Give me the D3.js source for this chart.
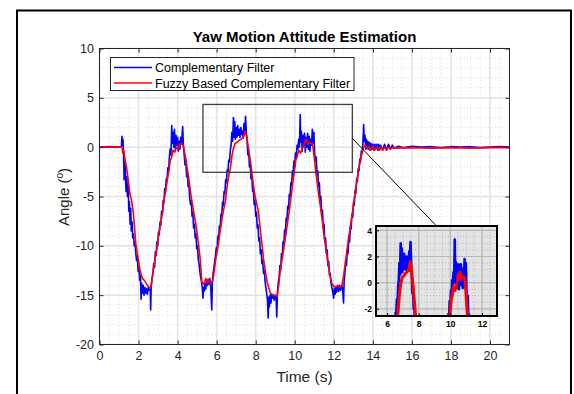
<!DOCTYPE html>
<meta charset="utf-8">
<style>
body { margin: 0; background: #fff; }
svg { display: block; font-family: "Liberation Sans", Arial, sans-serif; }
</style>
<body>
<svg width="574" height="394"></svg>
</body>
<script src="https://d3js.org/d3.v7.min.js"></script>
<script>

var chartTitle = "Yaw Motion Attitude Estimation";
var seriesNames = ["Complementary Filter", "Fuzzy Based Complementary Filter"];
var xTicks = [0, 2, 4, 6, 8, 10, 12, 14, 16, 18, 20];
var yTicks = [10, 5, 0, -5, -10, -15, -20];
var insetXTicks = [6, 8, 10, 12];
var insetYTicks = [-2, 0, 2, 4];
var zoomX = [5.3, 12.95];
var zoomY = [-2.55, 4.33];

// [time (s), angle (deg)]
var compFilter = [
  [0,0],[0.5,0.05],[1.0,0],[1.12,0.05],[1.15,1.1],[1.18,0.2],[1.2,0.8],[1.23,-0.5],[1.26,-3.3],[1.3,-1.5],
  [1.33,-2.8],[1.36,-4.5],[1.4,-3.0],[1.43,-5.0],[1.47,-3.8],[1.5,-6.5],[1.53,-5.5],[1.57,-7.8],[1.6,-6.2],[1.63,-8.5],
  [1.67,-7.6],[1.7,-9.2],[1.74,-8.8],[1.78,-10.0],[1.82,-9.6],[1.86,-10.8],[1.9,-11.5],[1.94,-11.0],[1.98,-12.6],[2.02,-12.2],
  [2.06,-13.5],[2.1,-13.0],[2.13,-15.4],[2.16,-13.8],[2.2,-14.8],[2.24,-14.0],[2.28,-15.0],[2.32,-14.2],[2.36,-14.8],[2.4,-14.3],
  [2.45,-14.9],[2.5,-14.2],[2.55,-14.5],[2.6,-14.4],[2.62,-16.5],[2.65,-14.0],[2.7,-13.2],[2.74,-12.6],[2.78,-11.8],[2.82,-12.2],
  [2.86,-10.6],[2.9,-11.0],[2.94,-9.6],[2.98,-10.0],[3.02,-8.6],[3.06,-8.9],[3.1,-7.6],[3.14,-7.9],[3.18,-6.5],[3.22,-6.8],
  [3.26,-5.4],[3.3,-5.6],[3.34,-4.2],[3.38,-4.5],[3.42,-3.2],[3.46,-3.4],[3.5,-2.1],[3.54,-2.4],[3.58,-1.0],[3.62,-0.2],
  [3.66,-0.8],[3.7,2.2],[3.73,0.4],[3.76,1.5],[3.8,0.0],[3.84,1.8],[3.88,-0.2],[3.92,1.2],[3.96,0.2],[4.0,1.0],
  [4.04,-0.4],[4.08,0.6],[4.12,-0.2],[4.16,1.0],[4.2,0.3],[4.26,2.1],[4.3,0.0],[4.34,-0.8],[4.38,-1.8],[4.42,-1.2],
  [4.46,-3.0],[4.5,-2.6],[4.54,-4.0],[4.58,-3.6],[4.62,-5.2],[4.66,-5.8],[4.7,-5.4],[4.74,-7.0],[4.78,-6.6],[4.82,-8.2],
  [4.86,-7.8],[4.9,-9.2],[4.94,-8.8],[4.98,-10.3],[5.02,-10.0],[5.06,-11.4],[5.1,-11.8],[5.14,-12.6],[5.18,-13.2],[5.22,-13.6],
  [5.26,-14.2],[5.3,-15.3],[5.33,-14.2],[5.36,-14.6],[5.4,-13.8],[5.44,-14.4],[5.48,-13.6],[5.52,-14.0],[5.56,-13.4],[5.6,-13.9],
  [5.65,-13.3],[5.7,-14.2],[5.75,-16.5],[5.78,-13.8],[5.82,-12.8],[5.86,-12.2],[5.9,-11.6],[5.94,-11.0],[5.98,-10.2],[6.02,-10.5],
  [6.06,-9.0],[6.1,-9.3],[6.14,-8.0],[6.18,-8.2],[6.22,-6.8],[6.26,-7.0],[6.3,-5.6],[6.34,-5.9],[6.38,-4.5],[6.42,-4.7],
  [6.46,-3.3],[6.5,-3.6],[6.54,-2.3],[6.58,-2.5],[6.62,-1.3],[6.66,-1.5],[6.7,-0.3],[6.74,0.2],[6.78,1.5],[6.82,0.6],
  [6.86,3.0],[6.9,1.0],[6.93,2.6],[6.96,0.8],[7.0,2.0],[7.04,1.0],[7.08,2.2],[7.12,1.2],[7.16,1.8],[7.2,1.0],
  [7.24,2.0],[7.28,1.3],[7.32,1.6],[7.36,0.9],[7.4,2.4],[7.44,1.5],[7.48,3.1],[7.52,1.6],[7.56,0.6],[7.6,-0.8],
  [7.64,-0.3],[7.68,-2.0],[7.72,-1.6],[7.76,-3.2],[7.8,-2.8],[7.84,-4.5],[7.88,-4.2],[7.92,-5.8],[7.96,-5.4],[8.0,-7.0],
  [8.04,-6.6],[8.08,-8.2],[8.12,-7.9],[8.16,-9.5],[8.2,-9.2],[8.24,-10.8],[8.28,-10.4],[8.32,-11.8],[8.36,-11.5],[8.4,-12.8],
  [8.44,-12.5],[8.48,-13.6],[8.52,-14.2],[8.56,-14.8],[8.6,-15.4],[8.64,-17.3],[8.67,-15.2],[8.7,-16.2],[8.74,-15.0],[8.78,-15.8],
  [8.82,-14.9],[8.86,-15.3],[8.9,-15.0],[8.95,-15.5],[9.0,-15.0],[9.05,-15.4],[9.08,-17.2],[9.11,-15.0],[9.15,-13.8],[9.2,-13.2],
  [9.24,-12.0],[9.28,-12.4],[9.32,-10.8],[9.36,-11.2],[9.4,-9.6],[9.44,-9.9],[9.48,-8.4],[9.52,-8.8],[9.56,-7.2],[9.6,-7.5],
  [9.64,-6.0],[9.68,-6.3],[9.72,-4.8],[9.76,-5.0],[9.8,-3.6],[9.84,-3.9],[9.88,-2.4],[9.92,-2.7],[9.96,-1.4],[10.0,-2.0],
  [10.04,-0.6],[10.08,-1.0],[10.12,0.2],[10.16,-0.2],[10.2,0.8],[10.24,0.0],[10.28,3.3],[10.31,0.5],[10.34,1.6],[10.38,-0.4],
  [10.42,1.2],[10.46,0.2],[10.5,1.4],[10.54,-0.5],[10.58,1.0],[10.62,0.0],[10.66,1.4],[10.7,-0.2],[10.74,1.1],[10.78,-0.4],
  [10.82,0.8],[10.86,0.2],[10.9,1.8],[10.94,0.4],[10.98,1.5],[11.02,-0.6],[11.06,-1.4],[11.1,-1.0],[11.14,-2.8],[11.18,-2.4],
  [11.22,-4.0],[11.26,-3.6],[11.3,-5.4],[11.34,-5.0],[11.38,-6.8],[11.42,-6.4],[11.46,-8.2],[11.5,-7.8],[11.54,-9.6],[11.58,-9.2],
  [11.62,-10.8],[11.66,-10.4],[11.7,-12.0],[11.74,-11.6],[11.78,-13.0],[11.82,-12.8],[11.86,-13.8],[11.9,-14.2],[11.94,-14.6],[11.99,-15.3],
  [12.03,-14.3],[12.07,-14.9],[12.11,-14.2],[12.15,-14.7],[12.2,-14.1],[12.25,-14.6],[12.3,-14.0],[12.35,-14.5],[12.4,-14.0],[12.45,-14.3],
  [12.5,-15.8],[12.53,-13.6],[12.57,-12.8],[12.61,-11.6],[12.65,-12.0],[12.69,-10.4],[12.73,-10.8],[12.77,-9.2],[12.81,-9.6],[12.85,-8.0],
  [12.89,-8.3],[12.93,-6.8],[12.97,-7.1],[13.01,-5.6],[13.05,-5.9],[13.09,-4.4],[13.13,-4.7],[13.17,-3.2],[13.21,-3.5],[13.25,-2.2],
  [13.29,-2.4],[13.33,-1.2],[13.37,-1.5],[13.41,-0.4],[13.45,-0.6],[13.49,0.4],[13.53,2.3],[13.56,0.6],[13.6,1.2],[13.63,-0.2],
  [13.67,0.8],[13.7,-0.1],[13.74,0.6],[13.78,-0.2],[13.82,0.5],[13.86,-0.3],[13.9,0.4],[13.95,-0.2],[14.0,0.3],[14.05,-0.3],
  [14.1,0.3],[14.15,-0.2],[14.2,0.3],[14.25,-0.3],[14.3,0.3],[14.35,-0.3],[14.4,0.2],[14.5,-0.3],[14.6,0.3],[14.7,-0.3],
  [14.8,0.3],[14.9,-0.2],[15.0,0.2],[15.1,-0.1],[15.3,0.1],[15.6,-0.05],[16.0,0.1],[16.5,0.0],[17.0,0.05],[17.5,-0.05],
  [18.0,0.05],[18.5,0.0],[19.0,0.05],[19.5,-0.05],[20.0,0.0],[20.5,0.05],[21.0,0.0]
];

var fuzzyFilter = [
  [0,0],[1.0,0],[1.15,0],[1.2,-0.6],[1.25,-0.4],[1.31,-1.3],[1.38,-2.0],[1.45,-3.0],[1.56,-4.7],[1.65,-5.5],
  [1.73,-6.6],[1.8,-8.3],[1.86,-9.8],[1.95,-11.0],[2.08,-12.5],[2.15,-13.0],[2.2,-13.3],[2.33,-13.6],[2.45,-14.0],[2.59,-14.3],
  [2.65,-14.0],[2.76,-12.5],[2.85,-11.2],[2.93,-10.4],[3.05,-8.6],[3.19,-7.1],[3.28,-5.8],[3.36,-4.7],[3.46,-3.5],[3.56,-2.3],
  [3.63,-1.3],[3.7,-1.0],[3.76,-0.3],[3.85,-0.5],[3.96,0.0],[4.05,-0.2],[4.12,0.3],[4.21,0.4],[4.3,0.1],[4.4,-1.0],
  [4.48,-2.0],[4.56,-3.0],[4.68,-4.8],[4.81,-6.4],[4.95,-8.0],[5.07,-9.8],[5.15,-11.2],[5.2,-12.5],[5.24,-13.6],[5.3,-13.9],
  [5.38,-13.7],[5.45,-13.3],[5.52,-13.7],[5.6,-13.5],[5.7,-13.8],[5.8,-13.5],[5.84,-13.1],[5.95,-11.4],[6.09,-9.8],[6.2,-8.2],
  [6.35,-6.4],[6.45,-5.5],[6.52,-4.2],[6.61,-3.0],[6.7,-2.2],[6.78,-0.9],[6.85,-0.2],[6.95,0.4],[7.05,0.5],[7.15,0.7],
  [7.25,0.8],[7.38,1.05],[7.46,1.6],[7.55,1.0],[7.62,0.0],[7.72,-1.3],[7.8,-2.5],[7.88,-3.8],[7.97,-5.0],[8.06,-5.8],
  [8.14,-6.6],[8.25,-8.6],[8.32,-9.8],[8.4,-11.3],[8.49,-12.5],[8.58,-13.6],[8.66,-14.2],[8.75,-14.8],[8.83,-14.9],[8.95,-15.0],
  [9.09,-15.1],[9.18,-14.0],[9.26,-12.5],[9.35,-11.4],[9.43,-10.4],[9.52,-9.2],[9.6,-8.1],[9.68,-7.0],[9.77,-5.7],[9.85,-4.4],
  [9.94,-3.0],[10.06,-1.3],[10.12,-1.0],[10.2,-0.3],[10.3,-0.6],[10.38,-0.2],[10.45,0.1],[10.52,0.6],[10.6,0.8],[10.68,0.3],
  [10.75,0.5],[10.82,0.35],[10.9,0.4],[10.97,-0.5],[11.05,-2.0],[11.13,-3.3],[11.22,-4.7],[11.3,-5.8],[11.39,-7.1],[11.47,-8.5],
  [11.56,-9.8],[11.65,-11.0],[11.73,-12.1],[11.82,-13.2],[11.9,-13.8],[12.0,-14.1],[12.1,-14.2],[12.2,-14.0],[12.3,-14.2],[12.4,-14.1],
  [12.5,-13.1],[12.6,-11.6],[12.68,-10.4],[12.76,-9.2],[12.85,-8.1],[12.93,-6.9],[13.02,-5.7],[13.1,-4.5],[13.19,-3.3],[13.28,-2.2],
  [13.36,-1.3],[13.45,-0.6],[13.53,0.0],[13.6,0.2],[13.7,-0.2],[13.8,0.1],[13.9,-0.3],[14.0,0.1],[14.1,-0.3],[14.2,0.0],
  [14.3,-0.3],[14.4,0.0],[14.5,-0.3],[14.6,0.0],[14.7,-0.3],[14.8,0.0],[14.9,-0.2],[15.0,-0.05],[15.2,-0.1],[16,-0.05],
  [17,-0.1],[18,-0.05],[19,-0.1],[20,-0.05],[21,-0.05]
];

var svg = d3.select("svg"),
    axisColor = "#262626",
    plainFormat = function(d) { return String(d); };

// outer figure frame
svg.append("rect")
    .attr("x", 17).attr("y", 10.5)
    .attr("width", 554).attr("height", 400)
    .attr("fill", "none").attr("stroke", "#000").attr("stroke-width", 2);

var x = d3.scaleLinear().domain([0, 21]).range([99.5, 509.5]),
    y = d3.scaleLinear().domain([-20, 10]).range([344.5, 48.5]);

var line = d3.line()
    .x(function(d) { return x(d[0]); })
    .y(function(d) { return y(d[1]); });

var defs = svg.append("defs");
defs.append("clipPath").attr("id", "plotClip")
  .append("rect")
    .attr("x", x(0)).attr("y", y(10))
    .attr("width", x(21) - x(0)).attr("height", y(-20) - y(10));

var g = svg.append("g");

// minor grid
g.selectAll(".minx")
  .data(d3.range(0, 21.01, 0.5))
  .enter().append("line")
    .attr("x1", x).attr("x2", x)
    .attr("y1", y(10)).attr("y2", y(-20))
    .attr("stroke", "#cfcfcf").attr("stroke-width", 0.8)
    .attr("stroke-dasharray", "1,2.5");
g.selectAll(".miny")
  .data(d3.range(-20, 10.01, 1))
  .enter().append("line")
    .attr("y1", y).attr("y2", y)
    .attr("x1", x(0)).attr("x2", x(21))
    .attr("stroke", "#cfcfcf").attr("stroke-width", 0.8)
    .attr("stroke-dasharray", "1,2.5");

// major grid
g.selectAll(".gx")
  .data(xTicks)
  .enter().append("line")
    .attr("x1", x).attr("x2", x)
    .attr("y1", y(10)).attr("y2", y(-20))
    .attr("stroke", "#e3e3e3").attr("stroke-width", 1.5);
g.selectAll(".gy")
  .data(yTicks)
  .enter().append("line")
    .attr("y1", y).attr("y2", y)
    .attr("x1", x(0)).attr("x2", x(21))
    .attr("stroke", "#e3e3e3").attr("stroke-width", 1.5);

var plot = g.append("g").attr("clip-path", "url(#plotClip)");
plot.append("path").datum(compFilter)
    .attr("d", line).attr("fill", "none")
    .attr("stroke", "#0000ff").attr("stroke-width", 1.6).attr("stroke-linejoin", "round");
plot.append("path").datum(fuzzyFilter)
    .attr("d", line).attr("fill", "none")
    .attr("stroke", "#ff0000").attr("stroke-width", 1.6).attr("stroke-linejoin", "round");

// axes box with inward ticks
g.append("rect")
    .attr("x", x(0)).attr("y", y(10))
    .attr("width", x(21) - x(0)).attr("height", y(-20) - y(10))
    .attr("fill", "none").attr("stroke", axisColor).attr("stroke-width", 1);

var xAxis = d3.axisBottom(x).tickValues(xTicks).tickFormat(plainFormat)
    .tickSizeInner(-4).tickSizeOuter(0).tickPadding(7);
var yAxis = d3.axisLeft(y).tickValues(yTicks).tickFormat(plainFormat)
    .tickSizeInner(-4).tickSizeOuter(0).tickPadding(5.5);

g.append("g").attr("transform", "translate(0," + y(-20) + ")").call(xAxis)
  .call(function(s) { s.select(".domain").remove(); });
g.append("g").attr("transform", "translate(0," + y(10) + ")")
  .call(d3.axisTop(x).tickValues(xTicks).tickSizeInner(-4).tickSizeOuter(0).tickFormat(""))
  .call(function(s) { s.select(".domain").remove(); });
g.append("g").attr("transform", "translate(" + x(0) + ",0)").call(yAxis)
  .call(function(s) { s.select(".domain").remove(); });
g.append("g").attr("transform", "translate(" + x(21) + ",0)")
  .call(d3.axisRight(y).tickValues(yTicks).tickSizeInner(-4).tickSizeOuter(0).tickFormat(""))
  .call(function(s) { s.select(".domain").remove(); });

g.selectAll(".tick line").attr("stroke", axisColor);
g.selectAll(".tick text")
    .attr("fill", axisColor)
    .style("font-size", "12.5px")
    .style("font-family", "'Liberation Sans', Arial, sans-serif");

// titles
svg.append("text")
    .attr("x", 304.5).attr("y", 42)
    .attr("text-anchor", "middle")
    .style("font-weight", "bold").style("font-size", "15px")
    .attr("fill", "#000")
    .text(chartTitle);

svg.append("text")
    .attr("x", 304.5).attr("y", 382)
    .attr("text-anchor", "middle")
    .style("font-size", "15.5px")
    .attr("fill", axisColor)
    .text("Time (s)");

var yl = svg.append("text")
    .attr("transform", "translate(69,197) rotate(-90)")
    .attr("text-anchor", "middle")
    .style("font-size", "15px")
    .attr("fill", axisColor);
yl.append("tspan").text("Angle (");
yl.append("tspan").attr("dy", -6).style("font-size", "10px").text("o");
yl.append("tspan").attr("dy", 6).text(")");

// legend
var leg = svg.append("g");
leg.append("rect")
    .attr("x", 110.5).attr("y", 57.5)
    .attr("width", 243.5).attr("height", 33)
    .attr("fill", "#fff").attr("stroke", axisColor).attr("stroke-width", 1);
var legColors = ["#0000ff", "#ff0000"];
seriesNames.forEach(function(name, i) {
  var ly = 67.5 + i * 15.5;
  leg.append("line")
      .attr("x1", 114).attr("x2", 152)
      .attr("y1", ly).attr("y2", ly)
      .attr("stroke", legColors[i]).attr("stroke-width", 1.6);
  leg.append("text")
      .attr("x", 155).attr("y", ly + 4.5)
      .style("font-size", "12.5px")
      .attr("fill", "#000")
      .text(name);
});

// zoom rectangle
svg.append("rect")
    .attr("x", x(zoomX[0])).attr("y", y(zoomY[1]))
    .attr("width", x(zoomX[1]) - x(zoomX[0]))
    .attr("height", y(zoomY[0]) - y(zoomY[1]))
    .attr("fill", "none").attr("stroke", "#404040").attr("stroke-width", 1.3);

// inset
var ix = d3.scaleLinear().domain(zoomX).range([376, 497]),
    iy = d3.scaleLinear().domain(zoomY).range([316, 226]);

svg.append("line")
    .attr("x1", x(zoomX[1])).attr("y1", (y(zoomY[0]) + y(zoomY[1])) / 2)
    .attr("x2", (ix.range()[0] + ix.range()[1]) / 2).attr("y2", iy.range()[1])
    .attr("stroke", "#000").attr("stroke-width", 1);

defs.append("clipPath").attr("id", "insetClip")
  .append("rect")
    .attr("x", 376).attr("y", 226)
    .attr("width", 121).attr("height", 90);

var ins = svg.append("g");
ins.append("rect")
    .attr("x", 376).attr("y", 226).attr("width", 121).attr("height", 90)
    .attr("fill", "#e4e4e4");

ins.selectAll(".iminx")
  .data(d3.range(6, 13, 0.5))
  .enter().append("line")
    .attr("x1", ix).attr("x2", ix).attr("y1", 226).attr("y2", 316)
    .attr("stroke", "#a8a8a8").attr("stroke-width", 0.8).attr("stroke-dasharray", "1,2");
ins.selectAll(".iminy")
  .data(d3.range(-2.5, 4.3, 0.5))
  .enter().append("line")
    .attr("y1", iy).attr("y2", iy).attr("x1", 376).attr("x2", 497)
    .attr("stroke", "#a8a8a8").attr("stroke-width", 0.8).attr("stroke-dasharray", "1,2");
ins.selectAll(".igx")
  .data(insetXTicks)
  .enter().append("line")
    .attr("x1", ix).attr("x2", ix).attr("y1", 226).attr("y2", 316)
    .attr("stroke", "#b8b8b8").attr("stroke-width", 1.2);
ins.selectAll(".igy")
  .data(insetYTicks)
  .enter().append("line")
    .attr("y1", iy).attr("y2", iy).attr("x1", 376).attr("x2", 497)
    .attr("stroke", "#b8b8b8").attr("stroke-width", 1.2);

var iline = d3.line()
    .x(function(d) { return ix(d[0]); })
    .y(function(d) { return iy(d[1]); });

var iplot = ins.append("g").attr("clip-path", "url(#insetClip)");
iplot.append("path").datum(compFilter)
    .attr("d", iline).attr("fill", "none")
    .attr("stroke", "#0000ff").attr("stroke-width", 2.6).attr("stroke-linejoin", "round");
iplot.append("path").datum(fuzzyFilter)
    .attr("d", iline).attr("fill", "none")
    .attr("stroke", "#ff0000").attr("stroke-width", 3).attr("stroke-linejoin", "round");

ins.append("g").attr("transform", "translate(0,316)")
  .call(d3.axisBottom(ix).tickValues(insetXTicks).tickFormat(plainFormat)
    .tickSizeInner(-3).tickSizeOuter(0).tickPadding(5))
  .call(function(s) { s.select(".domain").remove(); });
ins.append("g").attr("transform", "translate(376,0)")
  .call(d3.axisLeft(iy).tickValues(insetYTicks).tickFormat(plainFormat)
    .tickSizeInner(-3).tickSizeOuter(0).tickPadding(4))
  .call(function(s) { s.select(".domain").remove(); });
ins.selectAll(".tick line").attr("stroke", "#000");
ins.selectAll(".tick text")
    .attr("fill", "#000")
    .style("font-size", "8.5px").style("font-weight", "bold")
    .style("font-family", "'Liberation Sans', Arial, sans-serif");

ins.append("rect")
    .attr("x", 376).attr("y", 226).attr("width", 121).attr("height", 90)
    .attr("fill", "none").attr("stroke", "#000").attr("stroke-width", 2);

</script>
